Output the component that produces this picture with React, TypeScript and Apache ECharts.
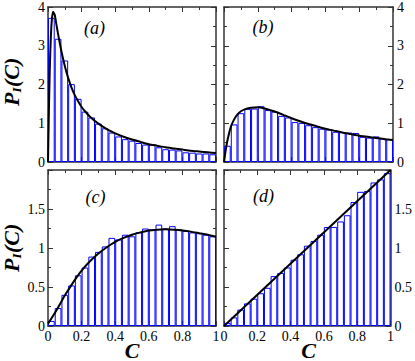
import React, { useEffect, useRef } from 'react';
import * as echarts from 'echarts';

const binCenters = [
  0.02, 0.06, 0.1, 0.14, 0.18, 0.22, 0.26, 0.3, 0.34, 0.38, 0.42, 0.46, 0.5,
  0.54, 0.58, 0.62, 0.66, 0.7, 0.74, 0.78, 0.82, 0.86, 0.9, 0.94, 0.98,
];

const barsA = [
  3.72, 3.18, 2.62, 2.01, 1.63, 1.3, 1.15, 0.99, 0.87, 0.76, 0.66, 0.59, 0.55,
  0.49, 0.45, 0.45, 0.38, 0.33, 0.32, 0.3, 0.25, 0.24, 0.22, 0.22, 0.2,
];
const barsB = [
  0.42, 0.97, 1.26, 1.37, 1.38, 1.44, 1.34, 1.3, 1.19, 1.15, 1.03, 1.01, 0.95,
  0.9, 0.86, 0.84, 0.78, 0.77, 0.76, 0.75, 0.65, 0.63, 0.66, 0.61, 0.59,
];
const barsC = [
  0.065, 0.23, 0.4, 0.52, 0.65, 0.75, 0.89, 0.95, 1.02, 1.13, 1.11, 1.17, 1.15,
  1.2, 1.25, 1.24, 1.3, 1.25, 1.28, 1.24, 1.22, 1.2, 1.19, 1.17, 1.15,
];
const barsD = [
  0.04, 0.11, 0.21, 0.29, 0.35, 0.42, 0.49, 0.64, 0.68, 0.75, 0.85, 0.92, 1.03,
  1.09, 1.17, 1.27, 1.27, 1.34, 1.42, 1.59, 1.72, 1.73, 1.84, 1.88, 1.96,
];

const curveA = [
  [0, 0], [0.004, 1.0], [0.01, 2.3], [0.02, 3.5], [0.03, 3.88], [0.04, 3.8],
  [0.05, 3.55], [0.06, 3.3], [0.08, 2.85], [0.1, 2.48], [0.12, 2.17], [0.14, 1.92],
  [0.16, 1.72], [0.18, 1.56], [0.2, 1.42], [0.22, 1.31], [0.25, 1.17], [0.3, 0.99],
  [0.35, 0.85], [0.4, 0.74], [0.45, 0.65], [0.5, 0.58], [0.55, 0.52], [0.6, 0.46],
  [0.65, 0.42], [0.7, 0.38], [0.75, 0.35], [0.8, 0.32], [0.85, 0.29], [0.9, 0.27],
  [0.95, 0.25], [1.0, 0.23],
];
const curveB = [
  [0, 0], [0.01, 0.3], [0.02, 0.55], [0.04, 0.9], [0.06, 1.1], [0.08, 1.23],
  [0.1, 1.31], [0.13, 1.37], [0.16, 1.4], [0.2, 1.41], [0.24, 1.38], [0.28, 1.33],
  [0.32, 1.27], [0.36, 1.2], [0.4, 1.13], [0.45, 1.05], [0.5, 0.98], [0.55, 0.92],
  [0.6, 0.86], [0.65, 0.81], [0.7, 0.76], [0.75, 0.72], [0.8, 0.68], [0.85, 0.65],
  [0.9, 0.62], [0.95, 0.59], [1.0, 0.57],
];
const curveC = [
  [0, 0.03], [0.05, 0.2], [0.1, 0.39], [0.15, 0.56], [0.2, 0.71], [0.25, 0.83],
  [0.3, 0.93], [0.35, 1.01], [0.4, 1.08], [0.45, 1.13], [0.5, 1.17], [0.55, 1.2],
  [0.6, 1.225], [0.65, 1.235], [0.7, 1.24], [0.75, 1.235], [0.8, 1.225], [0.85, 1.21],
  [0.9, 1.19], [0.95, 1.17], [1.0, 1.145],
];
const curveD = [
  [0, 0], [1, 2],
];

const panelLabels = ['(a)', '(b)', '(c)', '(d)'];
const yMaxTop = 4;
const yMaxBottom = 2;

const SERIF = 'Liberation Serif, serif';
const AXIS_COLOR = '#333';

function App() {
  const ref = useRef<HTMLDivElement>(null);

  useEffect(() => {
    if (!ref.current) return;
    const chart = echarts.init(ref.current, undefined, { renderer: 'svg' });

    const grids = [
      { left: 48, top: 2, width: 168, height: 160 },
      { left: 224, top: 2, width: 169, height: 160 },
      { left: 48, top: 170, width: 168, height: 156 },
      { left: 224, top: 170, width: 169, height: 156 },
    ];

    const panels = [
      { bars: barsA, curve: curveA, yMax: yMaxTop, yInt: 1, xLabels: false, yRight: false },
      { bars: barsB, curve: curveB, yMax: yMaxTop, yInt: 1, xLabels: false, yRight: true },
      { bars: barsC, curve: curveC, yMax: yMaxBottom, yInt: 0.5, xLabels: true, yRight: false },
      { bars: barsD, curve: curveD, yMax: yMaxBottom, yInt: 0.5, xLabels: true, yRight: true },
    ];

    const labelStyle = (show: boolean, margin: number) => ({
      show,
      fontFamily: SERIF,
      fontSize: 14,
      color: '#000',
      margin,
    });

    const baseAxis = (showLabel: boolean, margin: number) => ({
      type: 'value',
      axisLine: { show: true, onZero: false, lineStyle: { color: AXIS_COLOR, width: 1.5 } },
      axisTick: { show: true, inside: true, length: 5, lineStyle: { color: AXIS_COLOR, width: 1 } },
      minorTick: { show: true, splitNumber: 2, length: 3, lineStyle: { color: AXIS_COLOR, width: 1 } },
      splitLine: { show: false },
      minorSplitLine: { show: false },
      axisLabel: labelStyle(showLabel, margin),
    });

    const xAxes: any[] = [];
    const yAxes: any[] = [];
    const series: any[] = [];

    panels.forEach((p, i) => {
      xAxes.push({
        ...baseAxis(p.xLabels, 3),
        gridIndex: i,
        position: 'bottom',
        min: 0,
        max: 1,
        interval: 0.2,
      });
      xAxes.push({
        ...baseAxis(false, 3),
        gridIndex: i,
        position: 'top',
        min: 0,
        max: 1,
        interval: 0.2,
      });
      const fmt = (v: number) => (v === yMaxBottom && p.yMax === yMaxBottom ? '' : String(v));
      yAxes.push({
        ...baseAxis(!p.yRight, 3),
        gridIndex: i,
        position: 'left',
        min: 0,
        max: p.yMax,
        interval: p.yInt,
        axisLabel: { ...labelStyle(!p.yRight, 3), formatter: fmt },
      });
      yAxes.push({
        ...baseAxis(p.yRight, 4),
        gridIndex: i,
        position: 'right',
        min: 0,
        max: p.yMax,
        interval: p.yInt,
        axisLabel: { ...labelStyle(p.yRight, 4), formatter: fmt },
      });

      series.push({
        type: 'bar',
        xAxisIndex: 2 * i,
        yAxisIndex: 2 * i,
        data: binCenters.map((c, k) => [c, p.bars[k]]),
        barWidth: 6.7,
        itemStyle: { color: '#ffffff', borderColor: '#0000ff', borderWidth: 1 },
        z: 2,
        silent: true,
      });
      series.push({
        type: 'line',
        xAxisIndex: 2 * i,
        yAxisIndex: 2 * i,
        data: p.curve,
        showSymbol: false,
        smooth: 0.2,
        lineStyle: { color: '#000', width: 2 },
        z: 3,
        silent: true,
      });
    });

    const labelPos = [
      [94.5, 27.5],
      [263, 26.5],
      [95.5, 196.5],
      [263.5, 196],
    ];

    const textStyle = (text: string, font: string, align: string) => ({
      text,
      font,
      fill: '#000',
      textAlign: align,
      textVerticalAlign: 'middle',
      align,
      verticalAlign: 'middle',
    });

    const graphic: any[] = [];
    panelLabels.forEach((t, i) => {
      graphic.push({
        type: 'text',
        x: labelPos[i][0],
        y: labelPos[i][1],
        style: textStyle(t, `italic 18px ${SERIF}`, 'center'),
        z: 10,
      });
    });

    const yTitle = (cy: number) => ({
      type: 'group',
      x: 11,
      y: cy,
      rotation: Math.PI / 2,
      children: [
        { type: 'text', x: -24, y: 0, style: textStyle('P', `italic bold 22px ${SERIF}`, 'left') },
        { type: 'text', x: -10.5, y: 5, style: textStyle('I', `italic bold 13px ${SERIF}`, 'left') },
        { type: 'text', x: -5, y: 0, style: textStyle('(C)', `italic bold 22px ${SERIF}`, 'left') },
      ],
    });
    graphic.push(yTitle(82));
    graphic.push(yTitle(248));

    [132, 308.5].forEach((cx) => {
      graphic.push({
        type: 'text',
        x: cx,
        y: 350,
        style: textStyle('C', `italic bold 22px ${SERIF}`, 'center'),
      });
    });

    chart.setOption({
      animation: false,
      backgroundColor: '#ffffff',
      grid: grids.map((g) => ({ ...g, containLabel: false })),
      xAxis: xAxes,
      yAxis: yAxes,
      series,
      graphic,
    });

    return () => {
      chart.dispose();
    };
  }, []);

  return (
    <div
      ref={ref}
      style={{ position: 'absolute', left: 0, top: 0, width: 415, height: 361 }}
    />
  );
}

export default App;
